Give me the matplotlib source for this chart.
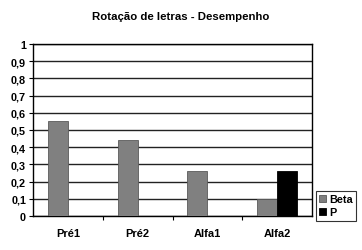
import matplotlib.pyplot as plt
import numpy as np

# Dados
categorias = ['Pré1', 'Pré2', 'Alfa1', 'Alfa2']
beta = [0.55, 0.44, 0.26, 0.10]
p = [0, 0, 0, 0.26]
ticks_y = [0, 0.1, 0.2, 0.3, 0.4, 0.5, 0.6, 0.7, 0.8, 0.9, 1]
ticks_y_labels = ['0', '0,1', '0,2', '0,3', '0,4', '0,5', '0,6', '0,7', '0,8', '0,9', '1']

plt.rcParams['font.family'] = ['Liberation Sans', 'DejaVu Sans']
plt.rcParams['font.weight'] = 'bold'

fig = plt.figure(figsize=(3.62, 2.51), dpi=100)
ax = fig.add_axes([33 / 362, 34 / 251, 279 / 362, 172 / 251])

x = np.arange(len(categorias))
w = 0.286
ax.bar(x - w / 2, beta, w, color='#808080', edgecolor='#5a5a5a',
       linewidth=0.6, label='Beta', zorder=3)
ax.bar(x + w / 2, p, w, color='black', edgecolor='black',
       linewidth=0.6, label='P', zorder=3)

ax.set_xlim(-0.5, 3.5)
ax.set_ylim(0, 1)
ax.set_yticks(ticks_y)
ax.set_yticklabels(ticks_y_labels, fontsize=7.8, fontweight='bold')
ax.set_xticks(x)
ax.set_xticklabels(categorias, fontsize=8, fontweight='bold')
ax.set_xticks([0.5, 1.5, 2.5], minor=True)
ax.tick_params(axis='x', which='major', length=0, pad=9)
ax.tick_params(axis='x', which='minor', length=3, width=0.8, direction='out')
ax.tick_params(axis='y', length=3, width=0.8, direction='out', pad=2)
ax.grid(axis='y', color='#222222', linewidth=1.0, zorder=0)
for s in ax.spines.values():
    s.set_color('black')
    s.set_linewidth(1.0)

fig.text(0.5, 1 - 17 / 251, 'Rotação de letras - Desempenho',
         ha='center', va='center', fontsize=8.2, fontweight='bold')

leg = fig.legend(loc='upper left', bbox_to_anchor=(316 / 362, 1 - 192 / 251),
                 fontsize=7.8, frameon=True, fancybox=False, handlelength=0.6,
                 handleheight=0.6, handletextpad=0.3, borderpad=0.3,
                 labelspacing=0.3, borderaxespad=0)
leg.get_frame().set_edgecolor('black')
leg.get_frame().set_linewidth(0.8)

plt.savefig('out.png', dpi=100)
plt.close()
